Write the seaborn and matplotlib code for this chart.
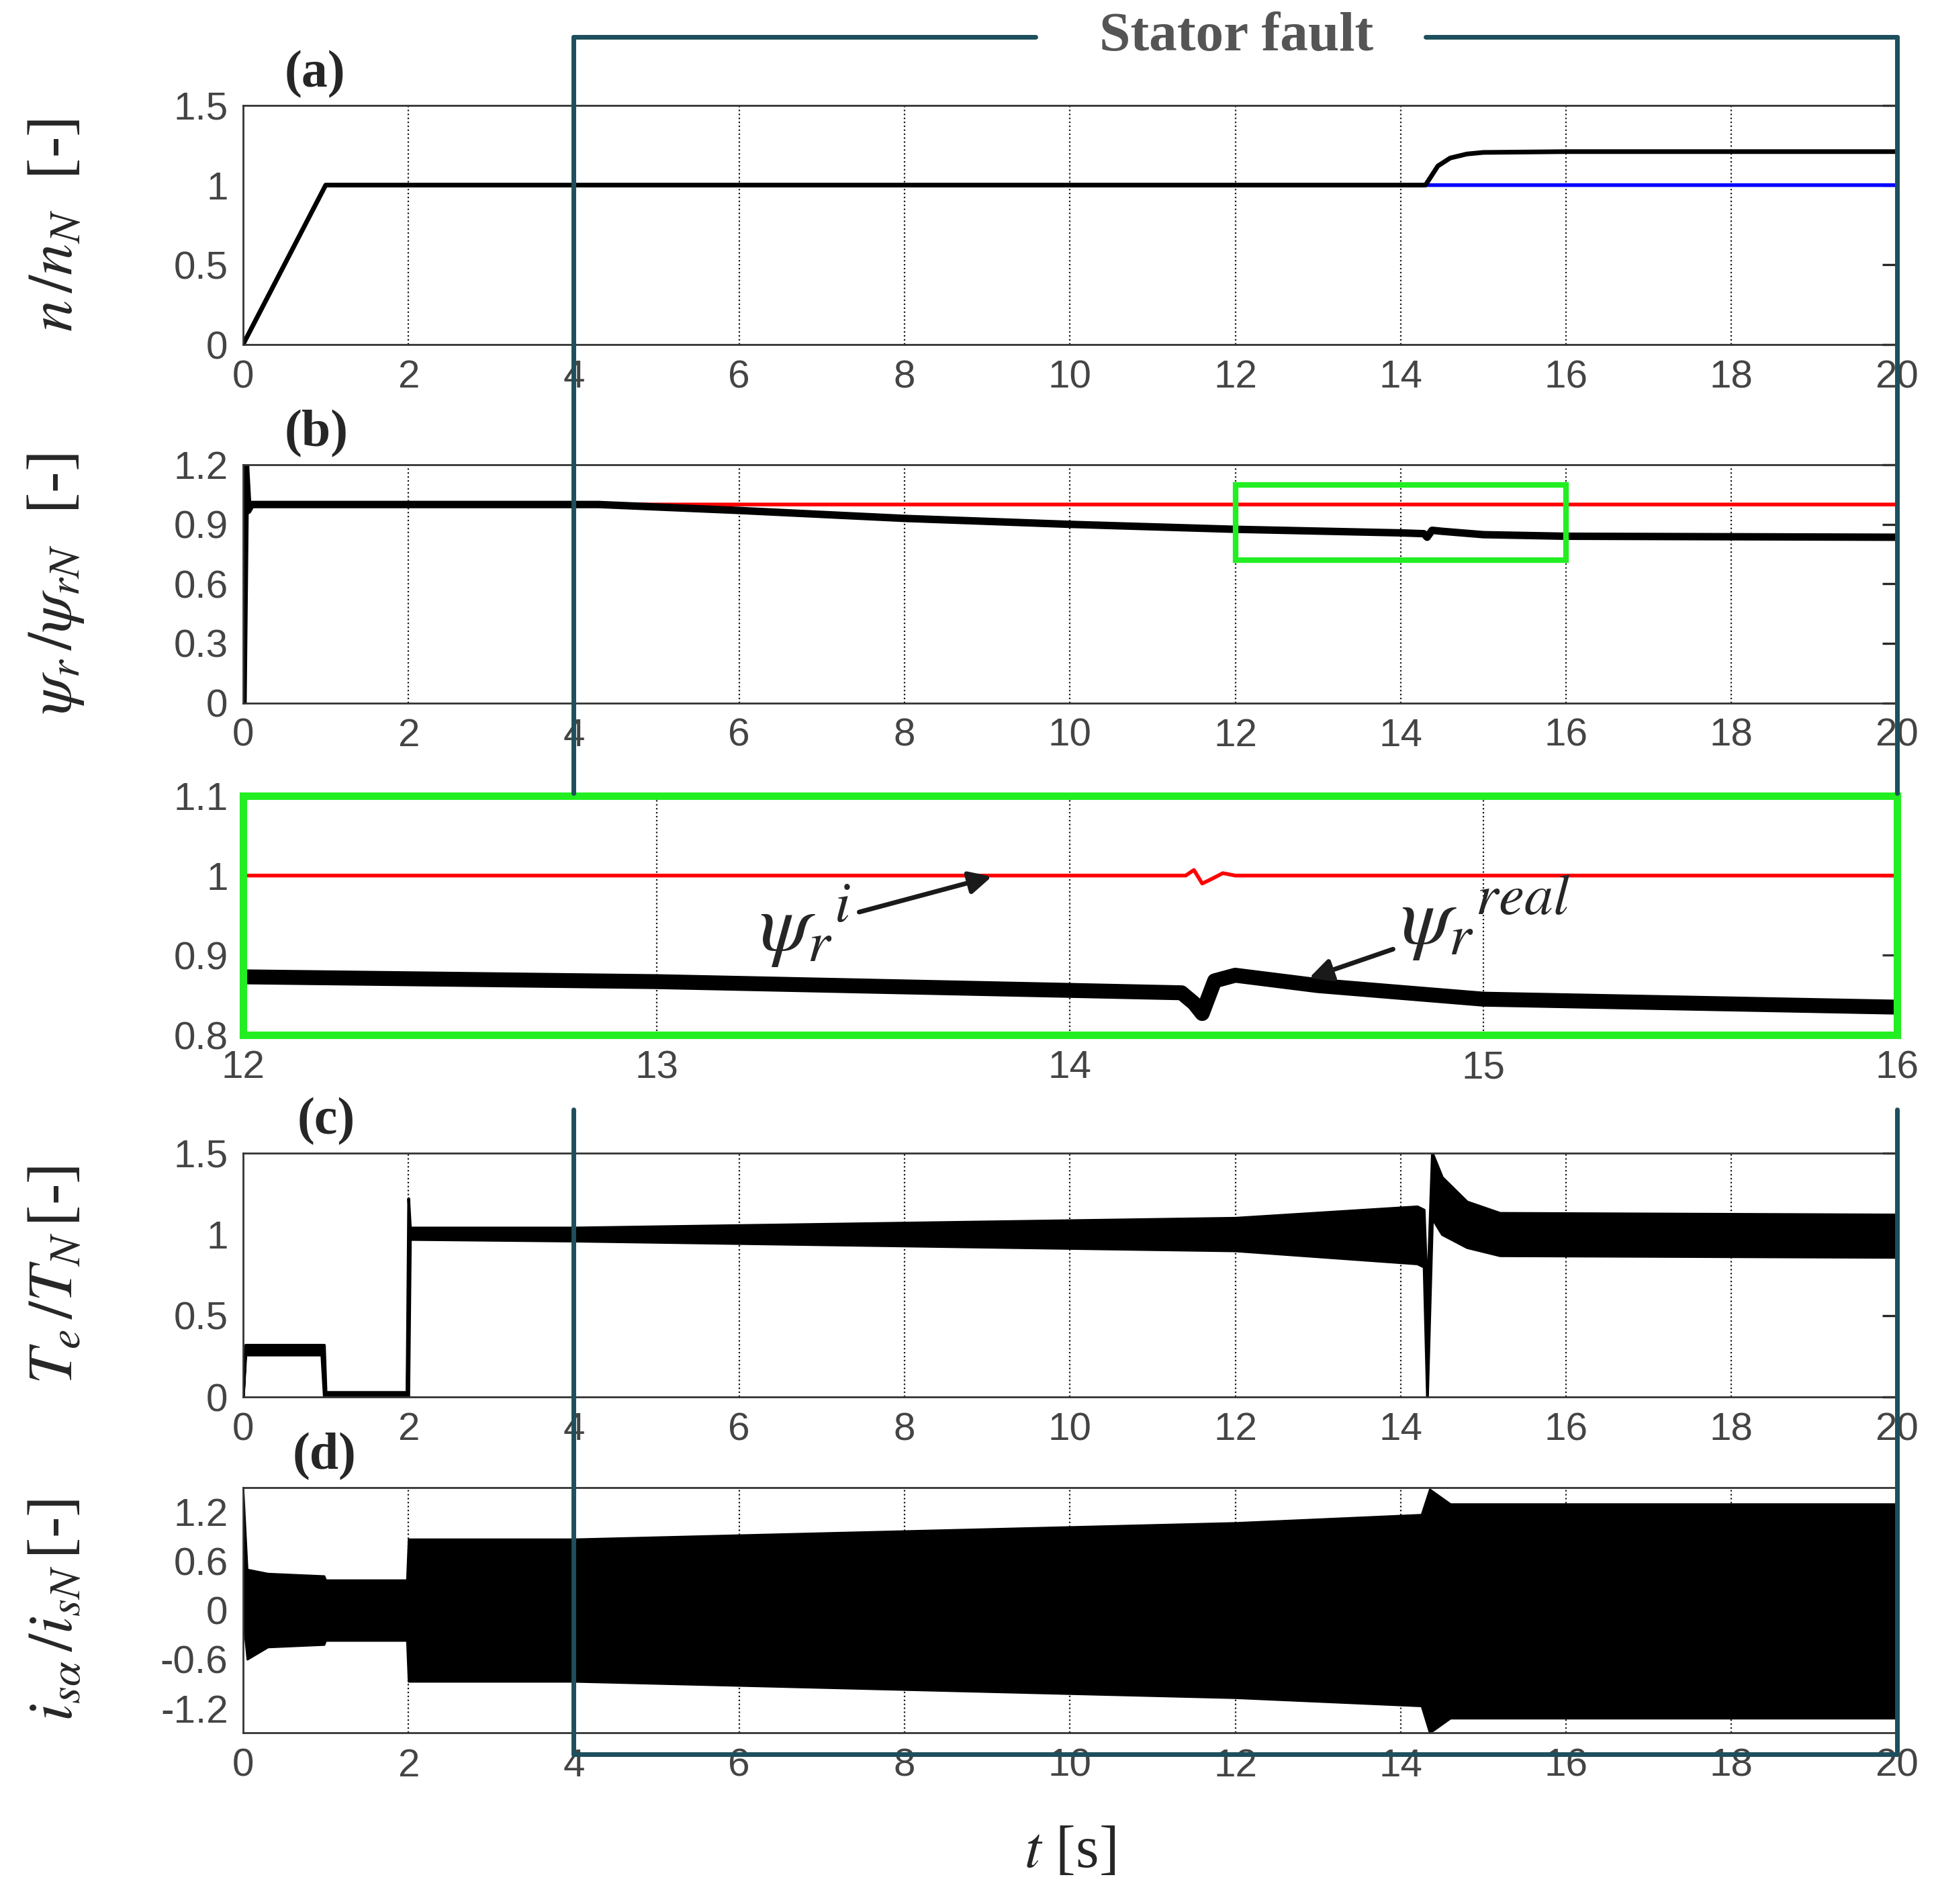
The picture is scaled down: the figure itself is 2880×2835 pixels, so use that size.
import numpy as np
import pandas as pd
import seaborn as sns
import matplotlib
matplotlib.use("Agg")
import matplotlib.pyplot as plt
from matplotlib.lines import Line2D
from matplotlib.patches import Rectangle

# ---------------- data ----------------
t_speed = [0, 1, 2, 14.3, 14.45, 14.6, 14.8, 15.0, 16, 20]
n_meas = [0, 1, 1, 1, 1.12, 1.17, 1.195, 1.205, 1.21, 1.21]
t_speed_ref = [0, 1, 14.3, 20]
n_ref = [0, 1, 1, 1]

t_flux = [0, 0.03, 0.06, 0.1, 4.3, 6, 8, 10, 12, 14, 14.28, 14.32, 14.38, 14.5, 15, 16, 20]
psi_real = [0, 1.2, 0.97, 1.0, 1.0, 0.97, 0.93, 0.9, 0.875, 0.857, 0.853, 0.835, 0.87, 0.865, 0.848, 0.84, 0.835]
t_flux_ref = [0, 0.02, 0.05, 20]
psi_ref = [0, 1.0, 1.0, 1.0]

t_zoom = [12, 13, 14, 14.27, 14.3, 14.32, 14.35, 14.4, 14.6, 15, 15.5, 16]
psi_real_zoom = [0.873, 0.867, 0.856, 0.853, 0.84, 0.827, 0.868, 0.875, 0.862, 0.845, 0.84, 0.835]
t_zoom_ref = [12, 14.28, 14.3, 14.32, 14.34, 14.37, 14.4, 16]
psi_ref_zoom = [1, 1, 1.007, 0.99, 0.995, 1.003, 1, 1]

t_torque = [0, 0.03, 0.95, 0.98, 1.0, 1.98, 2.0, 2.02, 4, 8, 12, 14.2, 14.28, 14.32, 14.38, 14.5, 14.8, 15.2, 20]
te_up = [0, 0.32, 0.32, 0.32, 0.03, 0.03, 1.22, 1.04, 1.04, 1.07, 1.1, 1.17, 1.15, 0.6, 1.5, 1.35, 1.2, 1.13, 1.12]
te_lo = [0, 0.26, 0.26, 0.0, 0.0, 0.0, 0.0, 0.97, 0.96, 0.93, 0.9, 0.82, 0.8, 0.0, 1.1, 1.0, 0.92, 0.87, 0.86]

t_cur = [0, 0.05, 0.3, 0.98, 1.0, 1.98, 2.0, 4, 8, 12, 14.25, 14.35, 14.6, 20]
i_up = [1.5, 0.5, 0.45, 0.42, 0.37, 0.37, 0.87, 0.87, 0.97, 1.07, 1.17, 1.48, 1.3, 1.3]
i_lo = [-0.1, -0.6, -0.45, -0.42, -0.37, -0.37, -0.87, -0.87, -0.97, -1.07, -1.17, -1.5, -1.32, -1.32]

xt_main = [0, 2, 4, 6, 8, 10, 12, 14, 16, 18, 20]
xt_zoom = [12, 13, 14, 15, 16]

# ---------------- style ----------------
sns.set_theme(style="white")
plt.rcParams.update({
    "mathtext.fontset": "stix",
    "font.family": "Liberation Sans",
})
TICKC = "#444444"
FW, FH = 1560.0, 1536.0
L, R = 196 / FW, 1530 / FW

fig = plt.figure(figsize=(14.4, 14.175), dpi=200)

def mk(top_px, bot_px):
    return fig.add_axes([L, 1 - bot_px / FH, R - L, (bot_px - top_px) / FH])

def style(ax, xt, yt, ylim, xlim, ylabels=None):
    ax.set_xlim(*xlim); ax.set_ylim(*ylim)
    ax.set_xticks(xt); ax.set_yticks(yt)
    if ylabels is not None:
        ax.set_yticklabels(ylabels)
    ax.tick_params(direction="in", length=8, width=1.2, top=False, right=True,
                   labelsize=21, labelcolor=TICKC, pad=8)
    for x in xt[1:-1]:
        ax.axvline(x, color="k", ls=":", lw=0.8, zorder=0)
    for s in ax.spines.values():
        s.set_color("#333333"); s.set_linewidth(1.0)
    ax.set_xlabel("")
    if ax.get_legend():
        ax.get_legend().remove()

def ylab(ax, txt, x=-0.095):
    ax.set_ylabel(txt, fontsize=34, family="Liberation Serif")
    ax.yaxis.set_label_coords(x, 0.5)

def tag(ax, txt, xpos):
    ax.text(xpos, 1.03, txt, transform=ax.transAxes, fontsize=28, fontweight="bold",
            family="Liberation Serif", ha="left", va="bottom")

# (a)
axa = mk(85, 278)
sns.lineplot(x=t_speed_ref, y=n_ref, ax=axa, color="blue", lw=2, estimator=None)
sns.lineplot(x=t_speed, y=n_meas, ax=axa, color="black", lw=2.5, estimator=None)
style(axa, xt_main, [0, 0.5, 1, 1.5], (0, 1.5), (0, 20), ["0", "0.5", "1", "1.5"])
ylab(axa, r"$n\,/n_N$  [-]")
tag(axa, "(a)", 0.025)

# (b)
axb = mk(375, 567)
sns.lineplot(x=t_flux_ref, y=psi_ref, ax=axb, color="red", lw=2, estimator=None)
sns.lineplot(x=t_flux, y=psi_real, ax=axb, color="black", lw=4, estimator=None)
style(axb, xt_main, [0, 0.3, 0.6, 0.9, 1.2], (0, 1.2), (0, 20), ["0", "0.3", "0.6", "0.9", "1.2"])
ylab(axb, r"$\psi_r\,/\psi_{rN}$  [-]")
tag(axb, "(b)", 0.025)
axb.add_patch(Rectangle((12, 0.72), 4, 0.38, fill=False, ec="#22ee22", lw=3, zorder=5))

# zoom
axz = mk(642, 835)
sns.lineplot(x=t_zoom_ref, y=psi_ref_zoom, ax=axz, color="red", lw=2, estimator=None)
sns.lineplot(x=t_zoom, y=psi_real_zoom, ax=axz, color="black", lw=8, estimator=None)
style(axz, xt_zoom, [0.8, 0.9, 1.0, 1.1], (0.8, 1.1), (12, 16), ["0.8", "0.9", "1", "1.1"])
for s in axz.spines.values():
    s.set_color("#22ee22"); s.set_linewidth(4)
axz.tick_params(color="#333333")
axz.annotate(r"$\psi_r{}^i$", xy=(13.82, 1.0), xytext=(13.25, 0.905), fontsize=44,
             arrowprops=dict(arrowstyle="-|>", color="k", lw=2.5, mutation_scale=25))
axz.annotate(r"$\psi_r{}^{real}$", xy=(14.57, 0.87), xytext=(14.8, 0.915), fontsize=44,
             arrowprops=dict(arrowstyle="-|>", color="k", lw=2.5, mutation_scale=25))

# (c)
axc = mk(930, 1127)
axc.fill_between(t_torque, te_lo, te_up, color="black", lw=1.5, edgecolor="black")
sns.lineplot(x=t_torque, y=[(u + l) / 2 for u, l in zip(te_up, te_lo)], ax=axc, color="black", lw=1, estimator=None)
style(axc, xt_main, [0, 0.5, 1, 1.5], (0, 1.5), (0, 20), ["0", "0.5", "1", "1.5"])
ylab(axc, r"$T_e\,/T_N\,$[-]")
tag(axc, "(c)", 0.033)

# (d)
axd = mk(1200, 1398)
axd.fill_between(t_cur, i_lo, i_up, color="black", lw=1, edgecolor="black")
sns.lineplot(x=t_cur, y=[0] * len(t_cur), ax=axd, color="black", lw=1, estimator=None)
style(axd, xt_main, [-1.2, -0.6, 0, 0.6, 1.2], (-1.5, 1.5), (0, 20), ["-1.2", "-0.6", "0", "0.6", "1.2"])
ylab(axd, r"$i_{s\alpha}\,/i_{sN}\,$[-]")
tag(axd, "(d)", 0.03)
axd.set_xlabel(r"$t$ [s]", fontsize=32, family="Liberation Serif", labelpad=22)

# Stator fault box
bx0 = L + 0.2 * (R - L)
bx1 = R
def fy(px): return 1 - px / FH
col = "#1d4f5c"
segs = [
    ((bx0, bx0), (fy(30), fy(640))),
    ((bx0, bx0), (fy(895), fy(1415))),
    ((bx1, bx1), (fy(30), fy(640))),
    ((bx1, bx1), (fy(895), fy(1415))),
    ((bx0, bx1), (fy(1415), fy(1415))),
    ((bx0, 835 / FW), (fy(30), fy(30))),
    ((1150 / FW, bx1), (fy(30), fy(30))),
]
for xs, ys in segs:
    fig.add_artist(Line2D(xs, ys, color=col, lw=2.5, zorder=1))
fig.text(997 / FW, fy(30), "Stator fault", ha="center", va="center", fontsize=30,
         fontweight="bold", color="#555555", family="Liberation Serif")

fig.savefig("out.png", dpi=200)
